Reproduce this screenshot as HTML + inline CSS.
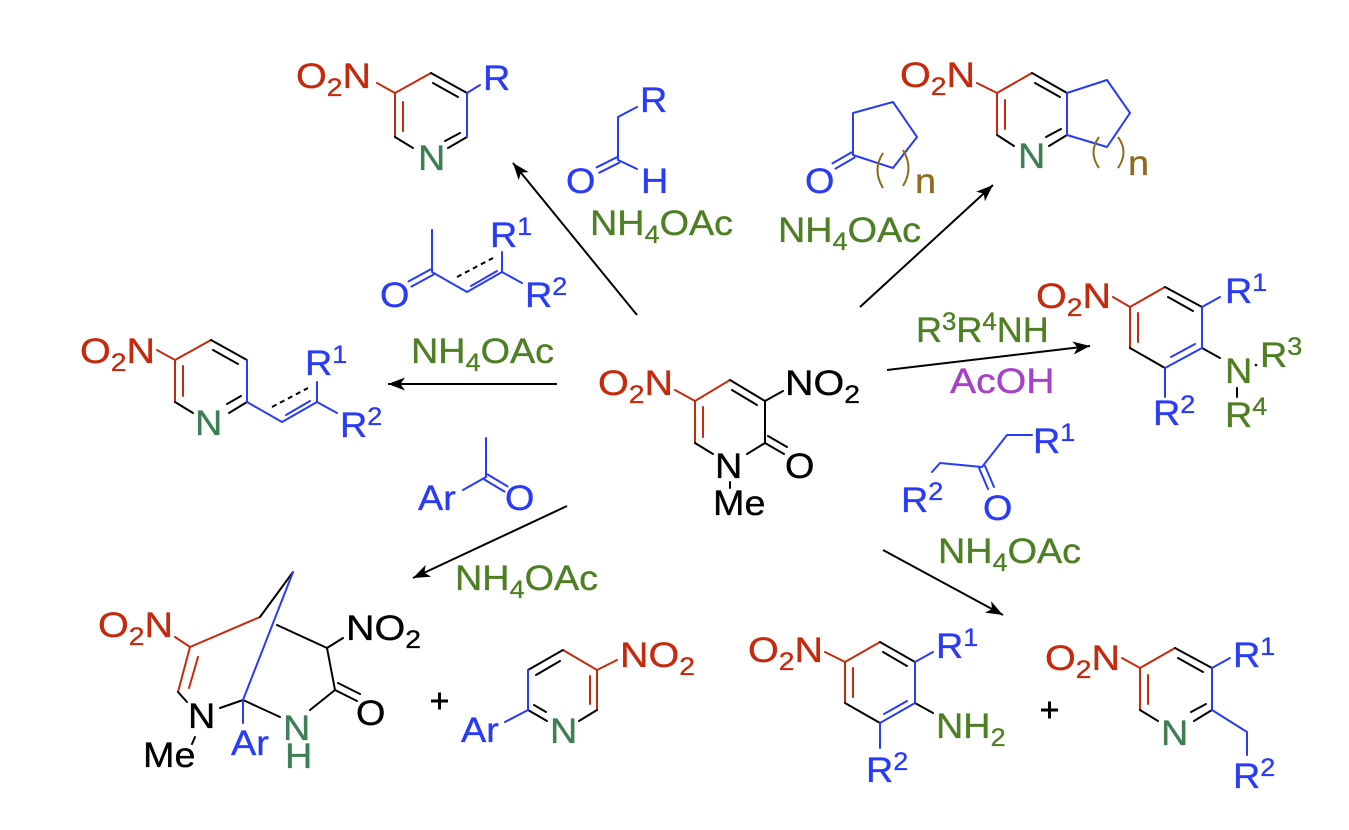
<!DOCTYPE html>
<html><head><meta charset="utf-8"><style>
html,body{margin:0;padding:0;background:#fff}
svg{display:block}
text{font-family:"Liberation Sans",Arial,sans-serif;font-size:35px;stroke-width:0.35px}
</style></head><body>
<svg width="1349" height="830" viewBox="0 0 1349 830" xmlns="http://www.w3.org/2000/svg">
<defs>
<marker id="ah" markerUnits="userSpaceOnUse" markerWidth="22" markerHeight="16" viewBox="-20 -8 22 16" refX="0" refY="0" orient="auto">
<path d="M0,0 L-17,-6.5 L-12.5,0 L-17,6.5 Z" fill="#000"/>
</marker>
</defs>
<rect width="1349" height="830" fill="#fff"/>

<!-- RED bonds -->
<g stroke="#c52a0d" stroke-width="2" fill="none" stroke-linecap="round">
<path d="M377,83L395,93L431,73M395,93L395,137M403,102L403,131"/>
<path d="M977,83L997,93L1032,73M997,93L997,135M1005,100L1005,129"/>
<path d="M157,350L175,360L211,340M175,360L175,402M183,366L183,396"/>
<path d="M675,390L695,401L730,380M695,401L695,443M703,407L703,437"/>
<path d="M1113,297L1130,307L1165,287M1130,307L1130,348M1138,313L1138,342"/>
<path d="M175,637L190,647L260,617M190,647L178,692M198,657L189,688"/>
<path d="M617,660L597,670L563,650M597,670L597,710M590,676L590,704"/>
<path d="M825,652L845,662L880,642M845,662L845,703M853,668L853,697"/>
<path d="M1122,658L1140,668L1175,648M1140,668L1140,710M1148,675L1148,704"/>
</g>

<!-- BLACK bonds -->
<g stroke="#000" stroke-width="2" fill="none" stroke-linecap="round">
<path d="M431,73L467,93M433,83L458,97M467,137L448,148M460,133L445,141M395,137L413,148"/>
<path d="M1032,73L1067,93M1035,83L1060,97M1067,135L1049,146M1061,129L1046,137M997,135L1014,146"/>
<path d="M211,340L247,360M213,350L238,364M247,402L229,413M241,396L227,404M175,402L193,413"/>
<path d="M730,380L765,401M732,390L757,405M765,401L765,443M765,401L783,391M765,443L747,454M695,443L713,454M765,443L784,454M768,436L787,447M730,482L730,488"/>
<path d="M1165,287L1202,307M1168,297L1193,311M1165,368L1130,348M1202,348L1220,358M1237,388L1237,397"/>
<path d="M260,617L293,572M178,692L187,702M220,708L243,700M195,737L192,744M243,700L280,717M310,710L335,690M335,690L357,701M338,683L360,694M335,690L327,648M327,648L277,625M327,648L343,638"/>
<path d="M528,670L563,650M536,675L560,661M597,710L579,721M528,710L547,721M534,705L546,712"/>
<path d="M880,642L915,662M883,652L907,666M880,723L845,703M915,703L933,713"/>
<path d="M1175,648L1212,668M1178,658L1203,672M1212,710L1194,721M1206,704L1191,712M1140,710L1158,721"/>
<path d="M272,407L308,388M457,277L493,258" stroke-dasharray="5,4" stroke-linecap="butt"/>
</g>
<circle cx="1256" cy="365" r="1.3" fill="#000"/>

<!-- BLUE bonds -->
<g stroke="#2a3bf5" stroke-width="2" fill="none" stroke-linecap="round" stroke-linejoin="round">
<path d="M467,93L467,137M467,93L480,85"/>
<path d="M637,107L618,117L618,160L637,169M616.7,157.3L596.7,167.3M619.3,162.7L599.3,172.7"/>
<path d="M432,230L432,272L467,292L502,272L502,252M502,272L522,283M471,286L497,271M430.6,269.4L408.6,281.4M433.4,274.6L411.4,286.6"/>
<path d="M853,155L853,113L893,102L917,137L893,168Z M851.5,152.4L832.5,163.4M854.5,157.6L835.5,168.6"/>
<path d="M1067,93L1067,135M1067,93L1107,80L1130,113L1107,147L1067,135"/>
<path d="M247,360L247,402L282,422L317,402L317,382M317,402L337,413M286,415L310,401"/>
<path d="M1202,307L1202,348L1165,368M1195,344L1171,357M1202,307L1220,297M1165,368L1165,397"/>
<path d="M1032,435L1007,435L982,467L940,463L932,472M979,468L988,489M985,466L994,487"/>
<path d="M486,438L486,477L463,490M487.5,474.4L507.5,486.4M484.5,479.6L504.5,491.6"/>
<path d="M293,572L243,700L243,723"/>
<path d="M528,670L528,710L505,722"/>
<path d="M915,662L915,703L880,723M907,701L884,714M915,662L933,652M880,723L880,748"/>
<path d="M1212,668L1212,710L1247,732L1247,755M1212,668L1230,658"/>
</g>

<!-- BROWN parentheses -->
<g stroke="#8c6b1c" stroke-width="2" fill="none">
<path d="M883,153Q872,170 883,188M903,150Q914,168 903,186"/>
<path d="M1099,137Q1088,152 1099,168M1118,137Q1129,152 1118,168"/>
</g>

<!-- Arrows -->
<g stroke="#000" stroke-width="2" fill="none" marker-end="url(#ah)">
<line x1="637" y1="315" x2="513" y2="163"/>
<line x1="860" y1="307" x2="993" y2="185"/>
<line x1="557" y1="384" x2="388" y2="384"/>
<line x1="887" y1="370" x2="1090" y2="346"/>
<line x1="567" y1="506" x2="413" y2="578"/>
<line x1="883" y1="550" x2="1003" y2="615"/>
</g>

<!-- Plus signs -->
<g stroke="#000" stroke-width="3">
<path d="M431,701L448,701M439.5,692.5L439.5,709.5"/>
<path d="M1041,710L1058,710M1049.5,701.5L1049.5,718.5"/>
</g>

<!-- TEXT: red -->
<g fill="#c52a0d" stroke="#c52a0d">
<text transform="translate(296,88) scale(1.13,1)">O<tspan font-size="25" dy="8">2</tspan><tspan dy="-8">N</tspan></text>
<text transform="translate(900,87) scale(1.13,1)">O<tspan font-size="25" dy="8">2</tspan><tspan dy="-8">N</tspan></text>
<text transform="translate(80,363) scale(1.13,1)">O<tspan font-size="25" dy="8">2</tspan><tspan dy="-8">N</tspan></text>
<text transform="translate(598,395) scale(1.13,1)">O<tspan font-size="25" dy="8">2</tspan><tspan dy="-8">N</tspan></text>
<text transform="translate(1036,308) scale(1.13,1)">O<tspan font-size="25" dy="8">2</tspan><tspan dy="-8">N</tspan></text>
<text transform="translate(98,637) scale(1.13,1)">O<tspan font-size="25" dy="8">2</tspan><tspan dy="-8">N</tspan></text>
<text transform="translate(620,667) scale(1.13,1)">NO<tspan font-size="25" dy="8">2</tspan></text>
<text transform="translate(748,662) scale(1.13,1)">O<tspan font-size="25" dy="8">2</tspan><tspan dy="-8">N</tspan></text>
<text transform="translate(1045,670) scale(1.13,1)">O<tspan font-size="25" dy="8">2</tspan><tspan dy="-8">N</tspan></text>
</g>

<!-- TEXT: black -->
<g fill="#000" stroke="#000">
<text transform="translate(785,395) scale(1.13,1)">NO<tspan font-size="25" dy="8">2</tspan></text>
<text transform="translate(715,478) scale(1.08,1)">N</text>
<text transform="translate(785,478) scale(1.08,1)">O</text>
<text transform="translate(713,515) scale(1.08,1)">Me</text>
<text transform="translate(346,640) scale(1.13,1)">NO<tspan font-size="25" dy="8">2</tspan></text>
<text transform="translate(188,728) scale(1.08,1)">N</text>
<text transform="translate(143,767) scale(1.08,1)">Me</text>
<text transform="translate(356,725) scale(1.08,1)">O</text>
</g>

<!-- TEXT: blue -->
<g fill="#2a3bf5" stroke="#2a3bf5">
<text transform="translate(483,90) scale(1.08,1)">R</text>
<text transform="translate(640,112) scale(1.08,1)">R</text>
<text transform="translate(566,193) scale(1.08,1)">O</text>
<text transform="translate(641,193) scale(1.08,1)">H</text>
<text transform="translate(490,247) scale(1.08,1)">R<tspan font-size="25" dy="-12">1</tspan></text>
<text transform="translate(380,307) scale(1.08,1)">O</text>
<text transform="translate(525,307) scale(1.08,1)">R<tspan font-size="25" dy="-12">2</tspan></text>
<text transform="translate(805,193) scale(1.08,1)">O</text>
<text transform="translate(305,375) scale(1.08,1)">R<tspan font-size="25" dy="-12">1</tspan></text>
<text transform="translate(340,437) scale(1.08,1)">R<tspan font-size="25" dy="-12">2</tspan></text>
<text transform="translate(1225,303) scale(1.08,1)">R<tspan font-size="25" dy="-12">1</tspan></text>
<text transform="translate(1153,425) scale(1.08,1)">R<tspan font-size="25" dy="-12">2</tspan></text>
<text transform="translate(1033,453) scale(1.08,1)">R<tspan font-size="25" dy="-12">1</tspan></text>
<text transform="translate(983,520) scale(1.08,1)">O</text>
<text transform="translate(901,512) scale(1.08,1)">R<tspan font-size="25" dy="-12">2</tspan></text>
<text transform="translate(418,510) scale(1.08,1)">Ar</text>
<text transform="translate(505,510) scale(1.08,1)">O</text>
<text transform="translate(231,755) scale(1.08,1)">Ar</text>
<text transform="translate(461,742) scale(1.08,1)">Ar</text>
<text transform="translate(936,658) scale(1.08,1)">R<tspan font-size="25" dy="-12">1</tspan></text>
<text transform="translate(866,782) scale(1.08,1)">R<tspan font-size="25" dy="-12">2</tspan></text>
<text transform="translate(1233,667) scale(1.08,1)">R<tspan font-size="25" dy="-12">1</tspan></text>
<text transform="translate(1233,788) scale(1.08,1)">R<tspan font-size="25" dy="-12">2</tspan></text>
</g>

<!-- TEXT: teal green (ring N) -->
<g fill="#3d7e55" stroke="#3d7e55">
<text transform="translate(418,170) scale(1.08,1)">N</text>
<text transform="translate(1018,168) scale(1.08,1)">N</text>
<text transform="translate(195,435) scale(1.08,1)">N</text>
<text transform="translate(283,740) scale(1.08,1)">N</text>
<text transform="translate(285,768) scale(1.08,1)">H</text>
<text transform="translate(550,743) scale(1.08,1)">N</text>
<text transform="translate(1161,745) scale(1.08,1)">N</text>
</g>

<!-- TEXT: olive green -->
<g fill="#4f7f23" stroke="#4f7f23">
<text transform="translate(590,235) scale(1.08,1)">NH<tspan font-size="25" dy="8">4</tspan><tspan dy="-8">OAc</tspan></text>
<text transform="translate(778,242) scale(1.08,1)">NH<tspan font-size="25" dy="8">4</tspan><tspan dy="-8">OAc</tspan></text>
<text transform="translate(411,363) scale(1.08,1)">NH<tspan font-size="25" dy="8">4</tspan><tspan dy="-8">OAc</tspan></text>
<text transform="translate(938,563) scale(1.08,1)">NH<tspan font-size="25" dy="8">4</tspan><tspan dy="-8">OAc</tspan></text>
<text transform="translate(455,590) scale(1.08,1)">NH<tspan font-size="25" dy="8">4</tspan><tspan dy="-8">OAc</tspan></text>
<text transform="translate(916,342) scale(1.03,1)">R<tspan font-size="25" dy="-12">3</tspan><tspan dy="12">R</tspan><tspan font-size="25" dy="-12">4</tspan><tspan dy="12">NH</tspan></text>
<text transform="translate(1225,383) scale(1.08,1)">N</text>
<text transform="translate(1260,367) scale(1.08,1)">R<tspan font-size="25" dy="-12">3</tspan></text>
<text transform="translate(1225,427) scale(1.08,1)">R<tspan font-size="25" dy="-12">4</tspan></text>
<text transform="translate(936,738) scale(1.08,1)">NH<tspan font-size="25" dy="8">2</tspan></text>
</g>

<!-- TEXT: purple -->
<text fill="#a640c8" stroke="#a640c8" transform="translate(950,393) scale(1.12,1)">AcOH</text>

<!-- TEXT: brown -->
<g fill="#8c6b1c" stroke="#8c6b1c">
<text transform="translate(915,193) scale(1.08,1)">n</text>
<text transform="translate(1128,175) scale(1.08,1)">n</text>
</g>
</svg>
</body></html>
